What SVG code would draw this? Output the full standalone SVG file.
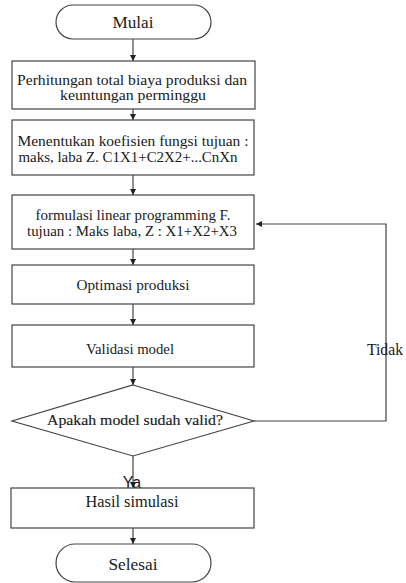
<svg xmlns="http://www.w3.org/2000/svg" width="406" height="583" viewBox="0 0 406 583">
<style>
.s{fill:#fff;stroke:#444;stroke-width:1.2}
.t{font-family:'Liberation Serif',serif;fill:#1a1a1a;text-anchor:middle}
.c{fill:none;stroke:#444;stroke-width:1.2}
</style>
<defs>
<marker id="a" viewBox="0 0 10 10" refX="10" refY="5" markerWidth="6" markerHeight="6" orient="auto" markerUnits="userSpaceOnUse">
<path d="M0,0 L10,5 L0,10 z" fill="#222"/>
</marker>
</defs>
<rect width="406" height="583" fill="#fff"/>
<g id="connectors">
<line class="c" x1="133" y1="39" x2="133" y2="61" marker-end="url(#a)"/>
<line class="c" x1="133" y1="109" x2="133" y2="120" marker-end="url(#a)"/>
<line class="c" x1="133" y1="175" x2="133" y2="195" marker-end="url(#a)"/>
<line class="c" x1="133" y1="249" x2="133" y2="265" marker-end="url(#a)"/>
<line class="c" x1="133" y1="304" x2="133" y2="325" marker-end="url(#a)"/>
<line class="c" x1="133" y1="367" x2="133" y2="385" marker-end="url(#a)"/>
<line class="c" x1="133" y1="456" x2="133" y2="488" marker-end="url(#a)"/>
<line class="c" x1="133" y1="528" x2="133" y2="544" marker-end="url(#a)"/>
<polyline class="c" points="254,421 386,421 386,224 256,224" marker-end="url(#a)"/>
<text class="t" x="385" y="355" font-size="16" textLength="36" lengthAdjust="spacingAndGlyphs">Tidak</text>
<text x="132" y="488" font-family="Liberation Sans, Arial, sans-serif" font-size="16" fill="#1a1a1a" text-anchor="middle">Ya</text>
</g>
<g id="mulai">
<rect class="s" x="56" y="5" width="155" height="34" rx="17"/>
<text class="t" x="133" y="28" font-size="16" textLength="41" lengthAdjust="spacingAndGlyphs">Mulai</text>
</g>
<g id="perhitungan">
<rect class="s" x="12" y="61" width="243" height="48"/>
<text class="t" x="132" y="85" font-size="14" textLength="230" lengthAdjust="spacingAndGlyphs">Perhitungan total biaya produksi dan</text>
<text class="t" x="133" y="100" font-size="14" textLength="146" lengthAdjust="spacingAndGlyphs">keuntungan perminggu</text>
</g>
<g id="menentukan">
<rect class="s" x="12" y="120" width="242" height="55"/>
<text class="t" x="133" y="146" font-size="14" textLength="231" lengthAdjust="spacingAndGlyphs">Menentukan koefisien fungsi tujuan :</text>
<text class="t" x="128" y="162" font-size="14" textLength="219" lengthAdjust="spacingAndGlyphs">maks, laba Z. C1X1+C2X2+...CnXn</text>
</g>
<g id="formulasi">
<rect class="s" x="12" y="195" width="242" height="54"/>
<text class="t" x="133" y="220" font-size="14" textLength="195" lengthAdjust="spacingAndGlyphs">formulasi linear programming F.</text>
<text class="t" x="132" y="236" font-size="14" textLength="210" lengthAdjust="spacingAndGlyphs">tujuan : Maks laba, Z : X1+X2+X3</text>
</g>
<g id="optimasi">
<rect class="s" x="12" y="265" width="242" height="39"/>
<text class="t" x="133" y="290" font-size="14" textLength="113" lengthAdjust="spacingAndGlyphs">Optimasi produksi</text>
</g>
<g id="validasi">
<rect class="s" x="12" y="325" width="242" height="42"/>
<text class="t" x="130" y="354" font-size="14" textLength="88" lengthAdjust="spacingAndGlyphs">Validasi model</text>
</g>
<g id="apakah">
<polygon class="s" points="133,385 254,421 133,456 12,421"/>
<text class="t" x="135" y="425" font-size="14" stroke="#1a1a1a" stroke-width="0.15" textLength="176" lengthAdjust="spacingAndGlyphs">Apakah model sudah valid?</text>
</g>
<g id="hasil">
<rect class="s" x="11" y="488" width="243" height="40"/>
<text class="t" x="132" y="507" font-size="16" textLength="93" lengthAdjust="spacingAndGlyphs">Hasil simulasi</text>
</g>
<g id="selesai">
<rect class="s" x="56" y="544" width="155" height="38" rx="19"/>
<text class="t" x="133" y="570" font-size="16" textLength="49" lengthAdjust="spacingAndGlyphs">Selesai</text>
</g>
</svg>
